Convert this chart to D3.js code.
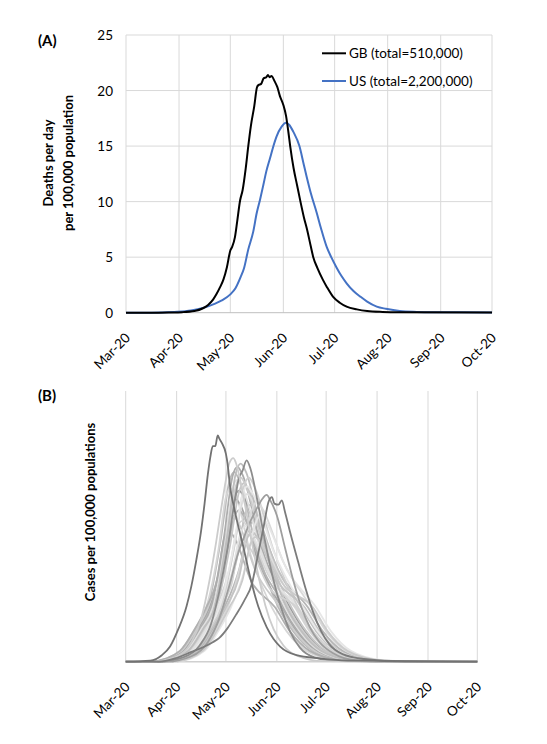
<!DOCTYPE html>
<html>
<head>
<meta charset="utf-8">
<script src="https://cdn.jsdelivr.net/npm/d3@7"></script>
<style>
  html, body { margin: 0; padding: 0; background: #fff; }
  svg text { font-family: Lato, "Open Sans", sans-serif; fill: #000; }
</style>
</head>
<body>
<svg id="chart" width="547" height="744"></svg>
<script>
// ---------------- DATA ----------------
const monthTicks = ["Mar-20","Apr-20","May-20","Jun-20","Jul-20","Aug-20","Sep-20","Oct-20"];
const yTicksA = [0, 5, 10, 15, 20, 25];

// Panel A: days since 1 Mar 2020 and deaths per day per 100,000
const gbDays = [0,15,25,33,40,45,48,51,53,55,57,59,61,62,63.7,65,66.7,68.2,70,71.5,73,75,76.6,77.5,79,80.5,82,83,84,85,87,88.5,90,92,93.6,95,96,98,100,102,104,106,108,109.5,112,115,117.5,121,125,129,135,141,150,160,214];
const gbValues = [0,0,0.02,0.05,0.15,0.4,0.7,1.2,1.7,2.3,3.0,4.1,5.6,5.9,6.8,8.2,10.1,11.05,13,15,16.8,18.6,20.3,20.5,20.6,21.1,21.2,21.4,21.2,21.3,20.8,20.3,19.5,18.7,17.7,16.2,15.0,13.0,11.5,10.0,8.6,7.4,6.0,5.0,4.0,3.0,2.3,1.45,0.9,0.55,0.3,0.15,0.07,0.04,0.02];
const usDays = [0,10,20,30,38,45,51,56,61,64,67,69,71.5,74.4,76.4,78.4,80.3,82,84.2,86,88,91,93.6,95.5,97.8,101.4,104,105.7,108,111.5,114,117.4,120,123,126,129,133,137,141,146.6,152,160,170,180,195,214];
const usValues = [0,0,0.02,0.08,0.2,0.42,0.75,1.1,1.65,2.2,3.2,4.0,5.7,7.3,8.95,10.2,11.5,12.7,13.9,14.9,15.85,16.75,17.1,16.9,16.3,15.0,13.3,12.2,10.8,9.0,7.6,5.9,5.0,4.1,3.3,2.65,1.95,1.45,1.0,0.55,0.35,0.15,0.07,0.04,0.03,0.02];
const seriesNames = ["GB (total=510,000)", "US (total=2,200,000)"];

// Panel B: cases per 100,000 populations, [day since 1 Mar, value] knots for each area
const caseD1 = [[0,0],[15,0.1],[22,0.6],[27,1.4],[32,3],[37,5.1],[40,7],[43,9.4],[46,12.2],[48,14.6],[50,17.3],[51.5,18.9],[53,19.9],[54.5,19.9],[56,20.9],[57,20.6],[58.5,20.2],[61,19.2],[62,18.3],[63.5,16.2],[66,14.2],[67.6,13.1],[71.6,10.6],[75.7,7.85],[80.7,5.1],[85.8,3.2],[90,2.1],[94,1.4],[104,0.6],[118,0.3],[135,0.1],[214,0]];
const caseD2 = [[0,0],[20,0],[30,0.3],[40,0.9],[48,1.4],[53,1.8],[57,2.2],[62,3.1],[67,4.3],[72,5.6],[77,7.3],[80,9.5],[84,12.5],[87,14.8],[89,15.2],[90.5,14.6],[93,14.5],[95,14.9],[97,13.8],[100,12],[105,9.2],[110,6.5],[114,4.6],[119,2.8],[124,1.6],[132,0.7],[145,0.25],[170,0],[214,0]];
const caseD3 = [[0,0],[20,0],[35,0.4],[45,1.5],[52,3.5],[57,6.5],[62,10.5],[66,14.5],[69,17],[71,17.6],[73.6,18.6],[76,17.8],[80,15],[85,11],[90,7.5],[95,4.8],[100,2.8],[106,1.3],[115,0.4],[130,0.05],[214,0]];
const caseL1 = [[0,0],[15,0],[30,0.4],[40,1.8],[46,4],[51,7.5],[55,11],[58,14],[61,16.8],[63,18.3],[65.5,18.8],[67,18.4],[70,16.5],[75,12.5],[80,8.5],[85,5.2],[90,3],[96,1.5],[105,0.5],[120,0.05],[214,0]];
const caseM2 = [[0,0],[25,0],[40,0.5],[50,1.8],[57,4],[63,7],[68,9.8],[72,11.5],[76,13],[80,14.2],[83,15],[85.8,15.4],[88,14.9],[92,13.5],[97,10.5],[102,7.5],[107,5],[112,3.2],[118,1.8],[126,0.8],[140,0.15],[214,0]];
const caseC1 = [[18,0],[34,1],[43,3],[50,5],[58,11.4],[63,16.6],[66,17.5],[69,16.8],[79,10.9],[93,5],[102,2.8],[114,1],[133,0.15],[160,0]];
const caseC2 = [[20,0],[36,1],[45,3],[52,5],[60,11.7],[65,17.1],[68,18],[71,17.3],[81.5,11.2],[96,5],[105,2.8],[117,1],[136,0.15],[163,0]];
const caseC3 = [[22,0],[38,1],[47,3],[54,5],[62,11],[67,16.2],[70,17],[73,16.3],[84,10.5],[99,5],[108,2.8],[120,1],[139,0.15],[166,0]];
const caseC4 = [[17,0],[33,1],[42,3],[49,5],[56.5,10.4],[61,15.2],[64,16],[67,15.4],[76,9.9],[89,5],[98,2.8],[110,1],[129,0.15],[156,0]];
const caseC5 = [[23,0],[39,1],[48,3],[55,5],[63.5,10.7],[69,15.7],[72,16.5],[75,15.8],[86,10.2],[101,5],[110,2.8],[122,1],[141,0.15],[168,0]];
const caseC6 = [[19,0],[35,1],[44,3],[51,5],[59,9.8],[64,14.3],[67,15],[70,14.4],[80.5,9.3],[95,5],[104,2.8],[116,1],[135,0.15],[162,0]];
const caseC7 = [[25,0],[41,1],[50,3],[57,5],[65.5,10.1],[71,14.7],[74,15.5],[77,14.9],[88.5,9.6],[104,5],[113,2.8],[125,1],[144,0.15],[171,0]];
const caseC8 = [[20,0],[36,1],[45,3],[52,5],[60.5,9.1],[66,13.3],[69,14],[72,13.4],[83,8.7],[98,5],[107,2.8],[119,1],[138,0.15],[165,0]];
const caseC9 = [[23,0],[39,1],[48,3],[55,5],[63,8.5],[68,12.4],[71,13],[74,12.5],[86.5,8.1],[103,5],[112,2.8],[124,1],[143,0.15],[170,0]];
const caseC10 = [[27,0],[43,1],[52,3],[59,5],[67.5,9.4],[73,13.8],[76,14.5],[79,13.9],[91,9],[107,5],[116,2.8],[128,1],[147,0.15],[174,0]];
const caseC11 = [[18,0],[34,1],[43,3],[50,5],[57.5,8.8],[62,12.8],[65,13.5],[68,13],[79,8.4],[94,5],[103,2.8],[115,1],[134,0.15],[161,0]];
const caseC12 = [[24,0],[40,1],[49,3],[56,5],[64.5,8.1],[70,11.9],[73,12.5],[76,12],[88.5,7.8],[105,5],[114,2.8],[126,1],[145,0.15],[172,0]];
const caseC13 = [[28,0],[44,1],[53,3],[60,5],[69,8.5],[75,12.4],[78,13],[81,12.5],[94,8.1],[111,5],[120,2.8],[132,1],[151,0.15],[178,0]];
const caseC14 = [[21,0],[37,1],[46,3],[53,5],[60.5,10.9],[65,16],[68,16.8],[71,16.1],[82,10.4],[97,5],[106,2.8],[118,1],[137,0.15],[164,0]];
const caseC15 = [[22,0],[38,1],[47,3],[54,5],[62,11.9],[67,17.4],[70,18.3],[73,17.6],[83.5,11.3],[98,5],[107,2.8],[119,1],[138,0.15],[165,0]];
const caseC16 = [[26,0],[42,1],[51,3],[58,5],[66.5,11],[72,16.2],[75,17],[78,16.3],[89.5,10.5],[105,5],[114,2.8],[126,1],[145,0.15],[172,0]];
const caseC17 = [[30,0],[46,1],[55,3],[62,5],[71,9.6],[77,14.1],[80,14.8],[83,14.2],[96,9.2],[113,5],[122,2.8],[134,1],[153,0.15],[180,0]];
const caseC18 = [[29,0],[45,1],[54,3],[61,5],[69,7.8],[74,11.4],[77,12],[80,11.5],[92.5,7.4],[109,5],[118,2.8],[130,1],[149,0.15],[176,0]];
const caseC19 = [[17,0],[33,1],[42,3],[49,5],[56,7.8],[60,11.4],[63,12],[66,11.5],[76.5,7.4],[91,5],[100,2.8],[112,1],[131,0.15],[158,0]];
const caseC20 = [[32,0],[48,1],[57,3],[64,5],[73,8.8],[79,12.8],[82,13.5],[85,13],[98.5,8.4],[116,5],[125,2.8],[137,1],[156,0.15],[183,0]];
const caseC21 = [[25,0],[41,1],[50,3],[57,5],[64.5,7.2],[69,10.5],[72,11],[75,10.6],[87.5,6.8],[104,5],[113,2.8],[125,1],[144,0.15],[171,0]];
const caseC22 = [[21,0],[37,1],[46,3],[53,5],[61,10.3],[66,15],[69,15.8],[72,15.2],[84,9.8],[100,5],[109,2.8],[121,1],[140,0.15],[167,0]];
const caseC23 = [[25,0],[41,1],[50,3],[57,5],[65.5,10.5],[71,15.4],[74,16.2],[77,15.6],[90.5,10],[108,5],[117,2.8],[129,1],[148,0.15],[175,0]];
const caseC24 = [[31,0],[47,1],[56,3],[63,5],[71,7.5],[76,10.9],[79,11.5],[82,11],[96,7.1],[114,5],[123,2.8],[135,1],[154,0.15],[181,0]];

const caseSeries = [caseC1,caseC4,caseC6,caseC8,caseC11,caseC19,caseC22,caseC2,caseC13,caseC10,caseC3,caseC5,caseC7,caseC9,caseC12,caseC14,caseC15,caseC16,caseC17,caseC18,caseC20,caseC21,caseC23,caseC24,caseD3,caseM2,caseL1,caseD2,caseD1];
const caseColors = ["#bababa","#d6d6d6","#a6a6a6","#b4b4b4","#cccccc","#b0b0b0","#9a9a9a","#acacac","#b6b6b6","#c2c2c2","#cdcdcd","#c6c6c6","#dedede","#d5d5d5","#e3e3e3","#e0e0e0","#bebebe","#d0d0d0","#d9d9d9","#c4c4c4","#e6e6e6","#d2d2d2","#e8e8e8","#cbcbcb","#8c8c8c","#9e9e9e","#cccccc","#7c7c7c","#727272"];

// ---------------- DRAW ----------------
const svg = d3.select("#chart");
const start = new Date(Date.UTC(2020, 2, 1));
const end = new Date(Date.UTC(2020, 9, 1));
const dayToDate = d => new Date(start.getTime() + d * 86400000);
const monthDates = d3.utcMonth.range(start, d3.utcMonth.offset(end, 1));
const gridColor = "#d9d9d9";

// ---- Panel A ----
const xA = d3.scaleUtc().domain([start, end]).range([126, 492]);
const yA = d3.scaleLinear().domain([0, 25]).range([312.7, 35]);

const gA = svg.append("g");
gA.selectAll("line.hg").data(yTicksA.filter(v => v > 0)).join("line")
  .attr("x1", xA.range()[0]).attr("x2", xA.range()[1])
  .attr("y1", d => yA(d)).attr("y2", d => yA(d))
  .attr("stroke", gridColor).attr("stroke-width", 1);
gA.selectAll("line.vg").data(monthDates).join("line")
  .attr("x1", d => xA(d)).attr("x2", d => xA(d))
  .attr("y1", yA(25)).attr("y2", yA(0))
  .attr("stroke", gridColor).attr("stroke-width", 1);
gA.append("line").attr("x1", xA.range()[0]).attr("x2", xA.range()[1])
  .attr("y1", yA(0)).attr("y2", yA(0)).attr("stroke", "#bfbfbf").attr("stroke-width", 1);

gA.selectAll("text.yt").data(yTicksA).join("text")
  .attr("x", 113).attr("y", d => yA(d) + 5)
  .attr("text-anchor", "end").attr("font-size", 13.5).text(d => d);

gA.selectAll("text.xt").data(monthDates).join("text")
  .attr("text-anchor", "end").attr("font-size", 13.5)
  .attr("transform", (d) => `translate(${xA(d) + 5},${yA(0) + 26}) rotate(-45)`)
  .text((d, i) => monthTicks[i]);

const lineA = d3.line().x(d => xA(dayToDate(d[0]))).y(d => yA(d[1])).curve(d3.curveMonotoneX);
const gbPts = gbDays.map((d, i) => [d, gbValues[i]]);
const usPts = usDays.map((d, i) => [d, usValues[i]]);
gA.append("path").attr("d", lineA(usPts)).attr("fill", "none").attr("stroke", "#4472c4").attr("stroke-width", 2);
gA.append("path").attr("d", lineA(gbPts)).attr("fill", "none").attr("stroke", "#000").attr("stroke-width", 2);

// legend
const legendColors = ["#000", "#4472c4"];
seriesNames.forEach((name, i) => {
  const ly = 53.3 + i * 27.7;
  gA.append("line").attr("x1", 322).attr("x2", 346).attr("y1", ly).attr("y2", ly)
    .attr("stroke", legendColors[i]).attr("stroke-width", 2);
  gA.append("text").attr("x", 349).attr("y", ly + 5).attr("font-size", 13.5).text(name);
});

gA.append("text").attr("x", 38).attr("y", 46).attr("font-size", 15).attr("font-weight", "bold").text("(A)");
gA.append("text").attr("transform", "translate(53,163) rotate(-90)").attr("text-anchor", "middle")
  .attr("font-size", 13).attr("font-weight", "bold").text("Deaths per day");
gA.append("text").attr("transform", "translate(73,163) rotate(-90)").attr("text-anchor", "middle")
  .attr("font-size", 13).attr("font-weight", "bold").text("per 100,000 population");

// ---- Panel B ----
const xB = d3.scaleUtc().domain([start, end]).range([125.7, 477.3]);
const yB = d3.scaleLinear().domain([0, 25]).range([661.7, 391]);
const gB = svg.append("g");
gB.selectAll("line.vg").data(monthDates).join("line")
  .attr("x1", d => xB(d)).attr("x2", d => xB(d))
  .attr("y1", yB(25)).attr("y2", yB(0))
  .attr("stroke", gridColor).attr("stroke-width", 1);
gB.append("line").attr("x1", xB.range()[0]).attr("x2", xB.range()[1])
  .attr("y1", yB(0)).attr("y2", yB(0)).attr("stroke", "#d0d0d0").attr("stroke-width", 1.5);

gB.selectAll("text.xt").data(monthDates).join("text")
  .attr("text-anchor", "end").attr("font-size", 13.5)
  .attr("transform", (d) => `translate(${xB(d) + 5},${yB(0) + 26}) rotate(-45)`)
  .text((d, i) => monthTicks[i]);

const lineB = d3.line().x(d => xB(dayToDate(d[0]))).y(d => yB(d[1])).curve(d3.curveMonotoneX);
gB.selectAll("path.case").data(caseSeries).join("path")
  .attr("d", d => lineB(d)).attr("fill", "none")
  .attr("stroke", (d, i) => caseColors[i]).attr("stroke-width", 1.8);

gB.append("text").attr("x", 38).attr("y", 401).attr("font-size", 15).attr("font-weight", "bold").text("(B)");
gB.append("text").attr("transform", "translate(95,512) rotate(-90)").attr("text-anchor", "middle")
  .attr("font-size", 13).attr("font-weight", "bold").text("Cases per 100,000 populations");
</script>
</body>
</html>
